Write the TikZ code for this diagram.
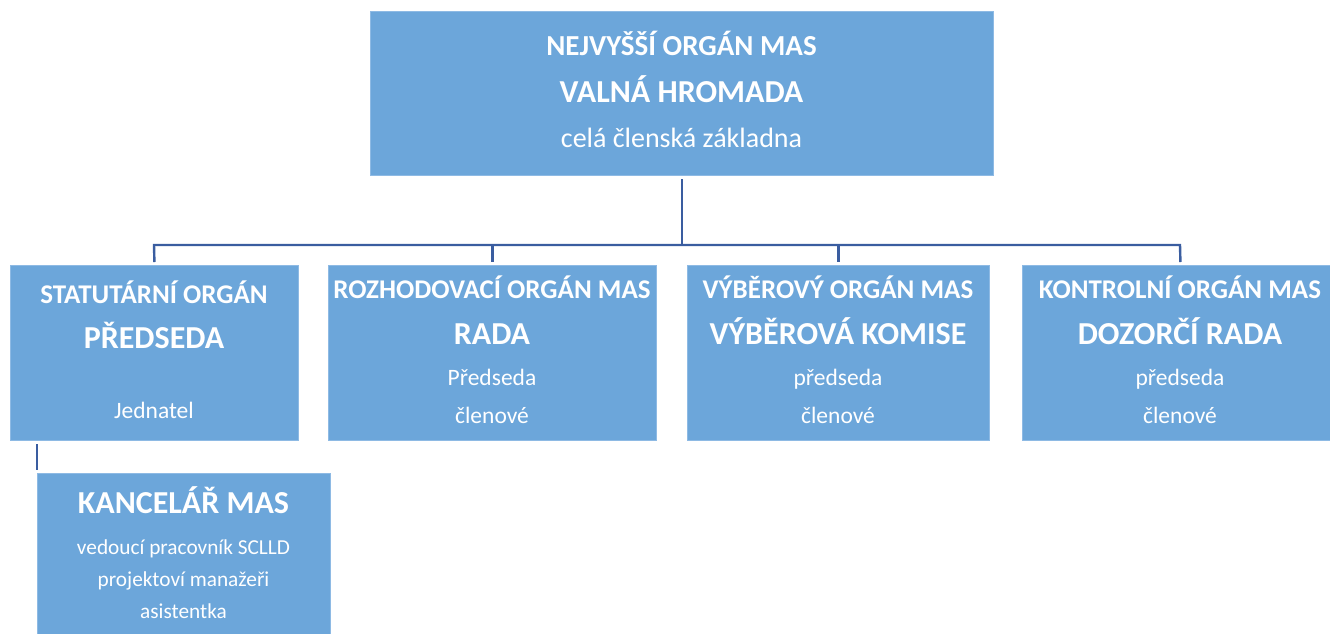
\documentclass[tikz,border=0pt]{standalone}
\usepackage{fontspec}
\setmainfont{Carlito}
\definecolor{boxblue}{RGB}{108,166,218}
\definecolor{edgeblue}{RGB}{142,186,228}
\definecolor{lineblue}{RGB}{58,93,160}
\tikzset{
	orgbox/.style={fill=boxblue,draw=edgeblue,line width=1pt,inner sep=0pt,anchor=north west},
	headtxt/.style={text=white,inner sep=0pt,anchor=base,font=\bfseries\fontsize{27}{27}\selectfont},
	nametxt/.style={text=white,inner sep=0pt,anchor=base,font=\bfseries\fontsize{32}{32}\selectfont},
	plaintxt/.style={text=white,inner sep=0pt,anchor=base,font=\fontsize{23.5}{23.5}\selectfont},
	smalltxt/.style={plaintxt,font=\fontsize{21.3}{21.3}\selectfont},
	conn/.style={color=lineblue,line width=2.4pt}
}
\begin{document}
\begin{tikzpicture}[x=1pt,y=-1pt]
		\useasboundingbox (0,0) rectangle (1330,633);
		
		% nejvyssi organ
		\node[orgbox,minimum width=623,minimum height=164] (top) at (370,11) {};
		\node[headtxt,font=\bfseries\fontsize{29}{29}\selectfont] (topA) at (681.5,55) {NEJVYŠŠÍ ORGÁN MAS};
		\node[nametxt,font=\bfseries\fontsize{32}{32}\selectfont] (topB) at (681.5,102) {VALNÁ HROMADA};
		\node[plaintxt,font=\fontsize{28}{28}\selectfont] (topC) at (681.5,147) {celá členská základna};
		
		% organy
		\node[orgbox,minimum width=288,minimum height=175] (stat) at (10,265) {};
		\node[headtxt] (statA) at (154,303) {STATUTÁRNÍ ORGÁN};
		\node[nametxt] (statB) at (154,348) {PŘEDSEDA};
		\node[plaintxt] (statC) at (154,418) {Jednatel};
		
		\node[orgbox,minimum width=328,minimum height=175] (rozh) at (328,265) {};
		\node[headtxt] (rozhA) at (492,298) {ROZHODOVACÍ ORGÁN MAS};
		\node[nametxt] (rozhB) at (492,344) {RADA};
		\node[plaintxt] (rozhC) at (492,385) {Předseda};
		\node[plaintxt] (rozhD) at (492,423) {členové};
		
		\node[orgbox,minimum width=302,minimum height=175] (vyb) at (687,265) {};
		\node[headtxt] (vybA) at (838,298) {VÝBĚROVÝ ORGÁN MAS};
		\node[nametxt] (vybB) at (838,344) {VÝBĚROVÁ KOMISE};
		\node[plaintxt] (vybC) at (838,385) {předseda};
		\node[plaintxt] (vybD) at (838,423) {členové};
		
		\node[orgbox,minimum width=316,minimum height=175] (kontr) at (1022,265) {};
		\node[headtxt] (kontrA) at (1180,298) {KONTROLNÍ ORGÁN MAS};
		\node[nametxt] (kontrB) at (1180,344) {DOZORČÍ RADA};
		\node[plaintxt] (kontrC) at (1180,385) {předseda};
		\node[plaintxt] (kontrD) at (1180,423) {členové};
		
		% kancelar
		\node[orgbox,minimum width=293,minimum height=175] (kanc) at (37,473) {};
		\node[nametxt] (kancA) at (183.5,513) {KANCELÁŘ MAS};
		\node[smalltxt] (kancB) at (183.5,554) {vedoucí pracovník SCLLD};
		\node[smalltxt] (kancC) at (183.5,586) {projektoví manažeři};
		\node[smalltxt] (kancD) at (183.5,618) {asistentka};
		
		% spojnice
		\coordinate (busL) at (154,245);
		\coordinate (busR) at (1180,245);
		\draw [conn,shorten <=3pt] (top.south) -- (top.south |- busL);
		\draw [conn,shorten <=3pt,shorten >=3pt] (stat.north) -- (busL) -- (busR) -- (kontr.north);
		\draw [conn,shorten >=3pt] (busL -| rozh.north) -- (rozh.north);
		\draw [conn,shorten >=3pt] (busL -| vyb.north) -- (vyb.north);
		\draw [conn,shorten <=3pt,shorten >=3pt] (stat.south -| kanc.north west) -- (kanc.north west);
		\end{tikzpicture}
\end{document}
